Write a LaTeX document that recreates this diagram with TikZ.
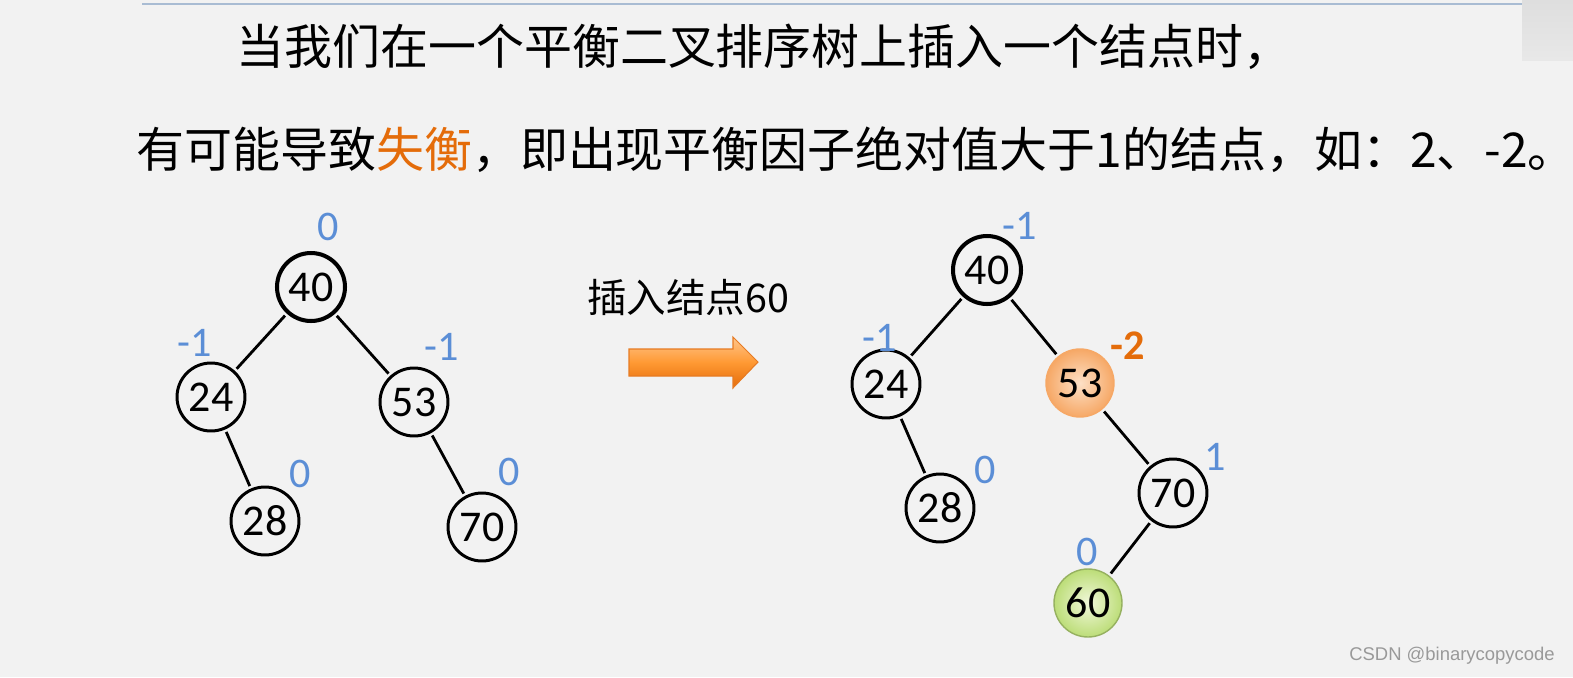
\documentclass[tikz,border=0pt]{standalone}
\usepackage{fontspec}
\setmainfont{Carlito}
\newfontfamily\cjk{Noto Sans CJK SC}
\newfontfamily\wmfont{Liberation Sans}
\definecolor{slidebg}{HTML}{F2F2F2}
\definecolor{balblue}{HTML}{5B8ED6}
\definecolor{warnorange}{HTML}{E46C0A}
\definecolor{rulecol}{HTML}{A9BCD3}
\definecolor{peachin}{HTML}{FDE0C6}
\definecolor{peachout}{HTML}{F6A866}
\definecolor{limein}{HTML}{F1F8DA}
\definecolor{limeout}{HTML}{BCDD78}
\begin{document}
\begin{tikzpicture}[x=0.02cm, y=-0.02cm,
    tnode/.style={circle, draw, line width=1.7pt, minimum size=1.36cm, inner sep=0pt, font=\fontsize{25}{25}\selectfont},
    rnode/.style={tnode, line width=2.3pt},
    bal/.style={text=balblue, inner sep=0pt, font=\fontsize{24}{24}\selectfont},
    link/.style={line width=1.6pt, shorten <=1.5pt, shorten >=1.5pt}]
    % slide background
    \fill[slidebg] (0,0) rectangle (1573,677);
    \useasboundingbox (0,0) rectangle (1573,677);
    \shade[top color=black!13, bottom color=black!9] (1522,0) rectangle (1573,60);
    \draw[rulecol, line width=1.5pt] (142,4) -- (1522,4);
    % title
    \node[anchor=west, inner sep=0pt, font=\cjk\fontsize{27.3}{27.3}\selectfont] (line1) at (236,47) {当我们在一个平衡二叉排序树上插入一个结点时，};
    \node[anchor=west, inner sep=0pt, font=\cjk\fontsize{27.3}{27.3}\selectfont] (line2) at (136,150) {有可能导致\textcolor{warnorange}{失衡}，即出现平衡因子绝对值大于1的结点，如：2、-2。};
    % tree before
    \node[rnode] (a40) at (311,287) {40};
    \node[tnode] (a24) at (211,397) {24};
    \node[tnode] (a53) at (414,402) {53};
    \node[tnode] (a28) at (265,521) {28};
    \node[tnode] (a70) at (482,527) {70};
    \draw[link] (a40) -- (a24);
    \draw[link] (a40) -- (a53);
    \draw[link] (a24) -- (a28);
    \draw[link] (a53) -- (a70);
    \node[bal] (ba40) at (328,227) {0};
    \node[bal] (ba24) at (195,343) {-1};
    \node[bal] (ba53) at (442,347) {-1};
    \node[bal] (ba28) at (300,474) {0};
    \node[bal] (ba70) at (509,472) {0};
    % insert arrow
    \node[inner sep=0pt, font=\cjk\fontsize{22.5}{22.5}\selectfont] (ins) at (688,297) {插入结点60};
    \shade[top color=orange!45, bottom color=warnorange, middle color=orange!80, draw=warnorange!90, line width=0.6pt]
        (629,349) -- (733,349) -- (733,337) -- (758,362) -- (733,388) -- (733,376) -- (629,376) -- cycle;
    % tree after
    \node[rnode] (b40) at (987,270) {40};
    \node[tnode] (b24) at (886,384) {24};
    \node[tnode, draw=peachout, line width=0.8pt, inner color=peachin, outer color=peachout] (b53) at (1080,383) {53};
    \node[tnode] (b28) at (940,508) {28};
    \node[tnode] (b70) at (1173,493) {70};
    \node[tnode, draw=limeout!80!black, line width=0.8pt, inner color=limein, outer color=limeout] (b60) at (1088,603) {60};
    \draw[link] (b40) -- (b24);
    \draw[link] (b40) -- (b53);
    \draw[link] (b24) -- (b28);
    \draw[link] (b53) -- (b70);
    \draw[link] (b70) -- (b60);
    \node[bal] (bb40) at (1020,226) {-1};
    \node[bal] (bb24) at (880,338) {-1};
    \node[text=warnorange, inner sep=0pt, font=\bfseries\fontsize{24}{24}\selectfont] (bb53) at (1128,346) {-2};
    \node[bal] (bb28) at (985,470) {0};
    \node[bal] (bb70) at (1215,457) {1};
    \node[bal] (bb60) at (1087,552) {0};
    % watermark
    \node[text=black!40, inner sep=0pt, font=\wmfont\fontsize{10.5}{10.5}\selectfont] (wm) at (1452,656) {CSDN @binarycopycode};
\end{tikzpicture}
\end{document}
